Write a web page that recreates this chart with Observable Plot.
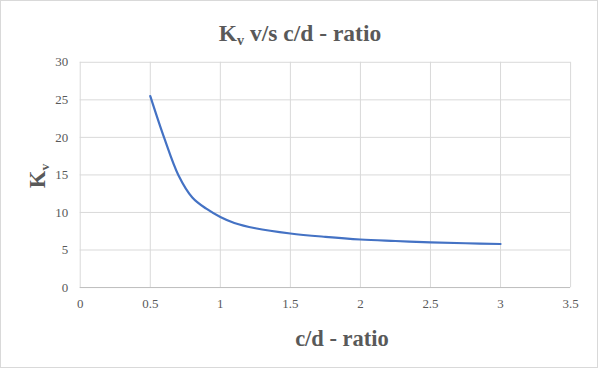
<!DOCTYPE html>
<html>
<head>
<meta charset="utf-8">
<script src="https://cdn.jsdelivr.net/npm/d3@7"></script>
<script src="https://cdn.jsdelivr.net/npm/@observablehq/plot@0.6"></script>
<style>
  html, body { margin: 0; padding: 0; background: #fff; }
  #chart { position: relative; width: 598px; height: 368px; box-sizing: border-box; border: 1px solid #d9d9d9; overflow: hidden; }
  #chart svg { position: absolute; left: -1px; top: -1px; }
  #chart svg text, #chart svg g[aria-label$="tick label"] { font-family: "Liberation Serif", "Times New Roman", serif; font-size: 13px; }
  .ttl { position: absolute; font-family: "Liberation Serif", "Times New Roman", serif; font-weight: bold; color: #595959; white-space: nowrap; }
  .ttl sub { font-size: 60%; vertical-align: -0.3em; line-height: 0; }
</style>
</head>
<body>
<div id="chart">
  <div class="ttl" id="title" style="left:0; width:598px; top:19px; text-align:center; font-size:23.5px;">K<sub>v</sub> v/s c/d - ratio</div>
  <div class="ttl" id="xlabel" style="left:95px; width:492px; top:325px; text-align:center; font-size:22.5px;">c/d - ratio</div>
  <div class="ttl" id="ylabel" style="left:37px; top:175px; font-size:22.5px; transform: translate(-50%,-50%) rotate(-90deg);">K<sub>v</sub></div>
</div>
<script>
const cdRatio = [0.5, 0.6, 0.7, 0.8, 0.9, 1.0, 1.1, 1.25, 1.5, 1.75, 2.0, 2.25, 2.5, 2.75, 3.0];
const kv      = [25.5, 19.9, 15.0, 12.0, 10.5, 9.4, 8.6, 7.9, 7.2, 6.75, 6.4, 6.2, 6.02, 5.9, 5.8];
const xTicks = [0, 0.5, 1, 1.5, 2, 2.5, 3, 3.5];
const yTicks = [0, 5, 10, 15, 20, 25, 30];

const data = cdRatio.map((x, i) => ({x, y: kv[i]}));
const fontFam = "Liberation Serif, Times New Roman, serif";

const plot = Plot.plot({
  width: 598,
  height: 368,
  marginLeft: 80,
  marginRight: 26,
  marginTop: 62,
  marginBottom: 80,
  style: { fontFamily: fontFam, fontSize: "13px", color: "#595959", background: "transparent" },
  x: { domain: [0, 3.5], ticks: xTicks, label: null },
  y: { domain: [0, 30], ticks: yTicks, label: null },
  marks: [
    Plot.gridX(xTicks, { stroke: "#d9d9d9", strokeOpacity: 1 }),
    Plot.gridY(yTicks, { stroke: "#d9d9d9", strokeOpacity: 1 }),
    Plot.ruleY([0], { stroke: "#bfbfbf" }),
    Plot.axisX(xTicks, { tickSize: 0, tickPadding: 11, fill: "#595959", fontFamily: fontFam, fontSize: 13, tickFormat: d => String(d) }),
    Plot.axisY(yTicks, { tickSize: 0, tickPadding: 12, fill: "#595959", fontFamily: fontFam, fontSize: 13 }),
    Plot.line(data, { x: "x", y: "y", stroke: "#4472C4", strokeWidth: 2.2, curve: "catmull-rom" })
  ]
});
document.getElementById("chart").appendChild(plot);
</script>
</body>
</html>
